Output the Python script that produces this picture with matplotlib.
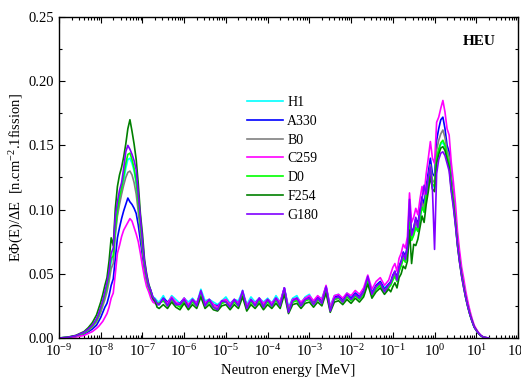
import numpy as np
import matplotlib
matplotlib.use("Agg")
import matplotlib.pyplot as plt
from matplotlib.ticker import FormatStrFormatter, MultipleLocator, LogLocator, NullFormatter

plt.rcParams["font.family"] = ["Liberation Serif", "DejaVu Serif"]
plt.rcParams["mathtext.fontset"] = "custom"
plt.rcParams["mathtext.rm"] = "Liberation Serif"
plt.rcParams["mathtext.it"] = "Liberation Serif:italic"
plt.rcParams["mathtext.bf"] = "Liberation Serif:bold"

# log10 of neutron energy [MeV] at each bin
log_e = np.round(np.concatenate([
    [-9.0, -8.8, -8.6, -8.4, -8.3, -8.2],
    np.arange(-8.1, -6.575, 0.05),
    np.arange(-6.5, -1.05, 0.1),
    np.arange(-1.05, 1.325, 0.05),
]), 3)

labels = ["H1", "A330", "B0", "C259", "D0", "F254", "G180"]
colors = ["#00FFFF", "#0000FF", "#808080", "#FF00FF", "#00FF00", "#008000", "#8000FF"]

h1 = [
    0.000, 0.0005, 0.0016, 0.004, 0.0062, 0.009, 0.0135, 0.017, 0.022, 0.027, 0.033, 0.039, 0.048,
    0.060, 0.063, 0.083, 0.097, 0.107, 0.114, 0.122, 0.132, 0.139, 0.140, 0.136, 0.130, 0.120,
    0.105, 0.088, 0.072, 0.057, 0.047, 0.041, 0.037, 0.032, 0.031, 0.029, 0.028,
    0.033, 0.027, 0.033, 0.030, 0.027, 0.031, 0.028, 0.031, 0.027, 0.038,
    0.029, 0.030, 0.028, 0.026, 0.029, 0.032, 0.027, 0.030, 0.029, 0.037,
    0.026, 0.032, 0.028, 0.031, 0.028, 0.031, 0.027, 0.033, 0.028, 0.039,
    0.024, 0.031, 0.033, 0.027, 0.032, 0.034, 0.028, 0.032, 0.031, 0.040,
    0.025, 0.033, 0.034, 0.030, 0.035, 0.032, 0.035, 0.034, 0.037, 0.046,
    0.036, 0.041, 0.044, 0.039, 0.042,
    0.042, 0.046, 0.049, 0.045, 0.053, 0.057, 0.063, 0.060, 0.067, 0.092, 0.077, 0.081, 0.087,
    0.083, 0.093, 0.103, 0.098, 0.111, 0.121, 0.130, 0.119, 0.117, 0.139, 0.146, 0.151, 0.152,
    0.149, 0.141, 0.135, 0.118, 0.106, 0.090, 0.073, 0.060, 0.049, 0.040, 0.031, 0.024, 0.018,
    0.013, 0.0085, 0.006, 0.0037, 0.002, 0.001, 0.0004, 0.0001, 0.0,
]
a330 = [
    0.000, 0.0003, 0.0012, 0.003, 0.0048, 0.007, 0.010, 0.013, 0.016, 0.020, 0.024, 0.027, 0.033,
    0.041, 0.046, 0.062, 0.078, 0.086, 0.093, 0.099, 0.104, 0.109, 0.106, 0.104, 0.101, 0.097,
    0.088, 0.076, 0.064, 0.052, 0.044, 0.038, 0.034, 0.030, 0.028, 0.026, 0.026,
    0.031, 0.028, 0.031, 0.027, 0.027, 0.031, 0.025, 0.030, 0.027, 0.035,
    0.027, 0.030, 0.026, 0.025, 0.028, 0.030, 0.026, 0.030, 0.027, 0.035,
    0.025, 0.029, 0.027, 0.031, 0.026, 0.030, 0.027, 0.031, 0.027, 0.039,
    0.022, 0.030, 0.031, 0.027, 0.031, 0.032, 0.028, 0.032, 0.029, 0.040,
    0.023, 0.032, 0.033, 0.030, 0.034, 0.031, 0.035, 0.032, 0.037, 0.046,
    0.035, 0.041, 0.044, 0.038, 0.042,
    0.044, 0.049, 0.052, 0.047, 0.056, 0.060, 0.067, 0.064, 0.072, 0.098, 0.082, 0.086, 0.093,
    0.089, 0.100, 0.110, 0.104, 0.118, 0.129, 0.140, 0.128, 0.126, 0.154, 0.163, 0.170, 0.172,
    0.163, 0.150, 0.145, 0.126, 0.113, 0.096, 0.077, 0.063, 0.051, 0.042, 0.033, 0.026, 0.019,
    0.014, 0.009, 0.0065, 0.004, 0.0022, 0.0011, 0.0005, 0.0002, 0.0,
]
b0 = [
    0.000, 0.0004, 0.0015, 0.0037, 0.0058, 0.0085, 0.0125, 0.016, 0.020, 0.025, 0.030, 0.036, 0.044,
    0.054, 0.058, 0.080, 0.095, 0.104, 0.112, 0.119, 0.125, 0.129, 0.130, 0.127, 0.121, 0.112,
    0.098, 0.083, 0.068, 0.054, 0.045, 0.039, 0.035, 0.031, 0.029, 0.027, 0.027,
    0.029, 0.027, 0.030, 0.026, 0.026, 0.029, 0.025, 0.028, 0.027, 0.035,
    0.025, 0.029, 0.026, 0.023, 0.027, 0.029, 0.026, 0.028, 0.026, 0.035,
    0.025, 0.028, 0.026, 0.029, 0.026, 0.029, 0.025, 0.030, 0.027, 0.037,
    0.021, 0.028, 0.030, 0.026, 0.029, 0.031, 0.027, 0.030, 0.028, 0.038,
    0.022, 0.030, 0.031, 0.029, 0.032, 0.030, 0.033, 0.031, 0.036, 0.045,
    0.034, 0.040, 0.042, 0.037, 0.041,
    0.043, 0.047, 0.050, 0.046, 0.054, 0.058, 0.064, 0.062, 0.069, 0.095, 0.079, 0.083, 0.090,
    0.086, 0.096, 0.106, 0.101, 0.114, 0.124, 0.135, 0.123, 0.121, 0.146, 0.154, 0.159, 0.162,
    0.156, 0.146, 0.141, 0.123, 0.110, 0.094, 0.075, 0.061, 0.050, 0.041, 0.032, 0.025, 0.018,
    0.013, 0.009, 0.006, 0.0038, 0.0021, 0.001, 0.0005, 0.0002, 0.0,
]
c259 = [
    0.000, 0.0002, 0.0008, 0.002, 0.0035, 0.005, 0.0075, 0.009, 0.011, 0.013, 0.016, 0.019, 0.024,
    0.031, 0.035, 0.050, 0.066, 0.072, 0.079, 0.084, 0.087, 0.090, 0.093, 0.091, 0.086, 0.081,
    0.075, 0.066, 0.056, 0.047, 0.040, 0.036, 0.031, 0.028, 0.027, 0.026, 0.027,
    0.030, 0.027, 0.032, 0.028, 0.026, 0.031, 0.026, 0.030, 0.027, 0.036,
    0.027, 0.030, 0.026, 0.024, 0.029, 0.030, 0.026, 0.030, 0.027, 0.036,
    0.025, 0.030, 0.027, 0.031, 0.027, 0.030, 0.027, 0.031, 0.028, 0.039,
    0.023, 0.030, 0.031, 0.028, 0.031, 0.033, 0.029, 0.033, 0.030, 0.041,
    0.024, 0.033, 0.034, 0.031, 0.035, 0.033, 0.037, 0.034, 0.039, 0.049,
    0.038, 0.044, 0.047, 0.041, 0.045,
    0.050, 0.055, 0.058, 0.052, 0.062, 0.066, 0.073, 0.070, 0.079, 0.113, 0.090, 0.094, 0.101,
    0.096, 0.108, 0.118, 0.112, 0.128, 0.140, 0.153, 0.140, 0.136, 0.168, 0.172, 0.179, 0.185,
    0.176, 0.163, 0.158, 0.137, 0.122, 0.105, 0.083, 0.068, 0.055, 0.046, 0.036, 0.028, 0.021,
    0.015, 0.010, 0.007, 0.0045, 0.0025, 0.0012, 0.0005, 0.0002, 0.0,
]
d0 = [
    0.000, 0.0005, 0.0017, 0.004, 0.0065, 0.0095, 0.014, 0.018, 0.023, 0.028, 0.034, 0.040, 0.050,
    0.062, 0.064, 0.086, 0.100, 0.110, 0.117, 0.126, 0.136, 0.143, 0.144, 0.139, 0.132, 0.122,
    0.106, 0.089, 0.073, 0.057, 0.047, 0.040, 0.036, 0.031, 0.030, 0.027, 0.027,
    0.029, 0.025, 0.030, 0.026, 0.024, 0.029, 0.024, 0.028, 0.025, 0.034,
    0.025, 0.028, 0.024, 0.022, 0.027, 0.028, 0.024, 0.028, 0.025, 0.034,
    0.023, 0.028, 0.025, 0.029, 0.024, 0.028, 0.025, 0.029, 0.025, 0.036,
    0.021, 0.028, 0.029, 0.025, 0.029, 0.030, 0.026, 0.030, 0.027, 0.037,
    0.022, 0.030, 0.031, 0.028, 0.032, 0.029, 0.033, 0.030, 0.034, 0.044,
    0.033, 0.038, 0.041, 0.036, 0.039,
    0.041, 0.045, 0.048, 0.044, 0.052, 0.056, 0.062, 0.059, 0.066, 0.090, 0.076, 0.080, 0.086,
    0.083, 0.093, 0.102, 0.098, 0.110, 0.120, 0.131, 0.120, 0.118, 0.140, 0.147, 0.152, 0.154,
    0.150, 0.142, 0.136, 0.119, 0.107, 0.091, 0.073, 0.060, 0.049, 0.040, 0.031, 0.024, 0.018,
    0.013, 0.0085, 0.006, 0.0037, 0.002, 0.001, 0.0004, 0.0001, 0.0,
]
f254 = [
    0.000, 0.0006, 0.002, 0.005, 0.008, 0.012, 0.018, 0.023, 0.028, 0.034, 0.041, 0.047, 0.060,
    0.078, 0.072, 0.101, 0.118, 0.127, 0.133, 0.141, 0.151, 0.163, 0.170, 0.161, 0.151, 0.139,
    0.120, 0.097, 0.081, 0.061, 0.050, 0.042, 0.037, 0.031, 0.029, 0.024, 0.023,
    0.026, 0.023, 0.028, 0.024, 0.022, 0.027, 0.022, 0.026, 0.023, 0.032,
    0.023, 0.026, 0.022, 0.021, 0.025, 0.026, 0.022, 0.026, 0.023, 0.032,
    0.021, 0.026, 0.023, 0.027, 0.022, 0.026, 0.023, 0.027, 0.023, 0.034,
    0.019, 0.026, 0.027, 0.023, 0.027, 0.028, 0.024, 0.028, 0.025, 0.035,
    0.020, 0.028, 0.029, 0.026, 0.030, 0.027, 0.031, 0.028, 0.032, 0.042,
    0.031, 0.036, 0.039, 0.034, 0.038,
    0.036, 0.040, 0.043, 0.039, 0.047, 0.050, 0.056, 0.054, 0.060, 0.084, 0.058, 0.073, 0.072,
    0.077, 0.086, 0.095, 0.090, 0.104, 0.114, 0.126, 0.116, 0.114, 0.136, 0.143, 0.148, 0.149,
    0.146, 0.139, 0.133, 0.116, 0.104, 0.089, 0.072, 0.059, 0.048, 0.039, 0.031, 0.024, 0.018,
    0.013, 0.0085, 0.006, 0.0037, 0.002, 0.001, 0.0004, 0.0001, 0.0,
]
g180 = [
    0.000, 0.0005, 0.0018, 0.0045, 0.007, 0.010, 0.015, 0.019, 0.024, 0.029, 0.036, 0.043, 0.052,
    0.066, 0.070, 0.095, 0.106, 0.115, 0.121, 0.132, 0.145, 0.150, 0.147, 0.143, 0.138, 0.131,
    0.112, 0.094, 0.076, 0.059, 0.049, 0.041, 0.037, 0.032, 0.030, 0.027, 0.026,
    0.031, 0.025, 0.031, 0.026, 0.026, 0.030, 0.024, 0.030, 0.025, 0.037,
    0.025, 0.030, 0.024, 0.022, 0.029, 0.028, 0.024, 0.030, 0.025, 0.037,
    0.023, 0.030, 0.025, 0.031, 0.024, 0.030, 0.025, 0.031, 0.025, 0.039,
    0.020, 0.029, 0.031, 0.025, 0.030, 0.031, 0.026, 0.031, 0.027, 0.040,
    0.021, 0.031, 0.032, 0.028, 0.034, 0.030, 0.034, 0.031, 0.036, 0.048,
    0.034, 0.040, 0.043, 0.036, 0.041,
    0.043, 0.048, 0.052, 0.045, 0.055, 0.059, 0.066, 0.061, 0.070, 0.108, 0.080, 0.085, 0.094,
    0.086, 0.098, 0.108, 0.119, 0.112, 0.125, 0.133, 0.115, 0.069, 0.128, 0.139, 0.144, 0.145,
    0.142, 0.136, 0.130, 0.114, 0.102, 0.088, 0.072, 0.059, 0.048, 0.039, 0.031, 0.024, 0.018,
    0.013, 0.0085, 0.006, 0.0038, 0.0021, 0.001, 0.0005, 0.0002, 0.0,
]
series = [h1, a330, b0, c259, d0, f254, g180]

energy = 10.0 ** log_e

fig = plt.figure(figsize=(5.21, 3.82), dpi=100)
ax = fig.add_axes([59 / 521, 44 / 382, 459 / 521, 321 / 382])

for vals, lab, col in zip(series, labels, colors):
    ax.plot(energy, vals, color=col, lw=1.2, label=lab)

ax.set_xscale("log")
ax.set_xlim(1e-9, 1e2)
ax.set_ylim(0.0, 0.25)
ax.xaxis.set_major_locator(LogLocator(base=10, numticks=20))
ax.xaxis.set_minor_locator(LogLocator(base=10, subs=np.arange(2, 10), numticks=200))
ax.xaxis.set_minor_formatter(NullFormatter())
ax.yaxis.set_major_locator(MultipleLocator(0.05))
ax.yaxis.set_minor_locator(MultipleLocator(0.025))
ax.yaxis.set_major_formatter(FormatStrFormatter("%.2f"))
ax.tick_params(which="both", direction="in", top=True, right=True, labelsize=10.5, width=0.8)
ax.tick_params(which="major", length=4)
ax.tick_params(which="minor", length=2)
for sp in ax.spines.values():
    sp.set_linewidth(1.0)

ax.set_xlabel("Neutron energy [MeV]", fontsize=10.5)
ax.set_ylabel("EΦ(E)/ΔE  [n.cm$^{-2}$.1fission]", fontsize=10.5)
ax.yaxis.set_label_coords(-0.072, 0.5)

ax.text(0.915, 0.925, "HEU", transform=ax.transAxes, fontsize=11, fontweight="bold",
        ha="center", va="center")

ax.legend(loc="upper left", bbox_to_anchor=(0.394, 0.776), frameon=False, fontsize=10,
          handlelength=2.6, handletextpad=0.3, labelspacing=0.42, borderpad=0)

fig.savefig("out.png", dpi=100)
